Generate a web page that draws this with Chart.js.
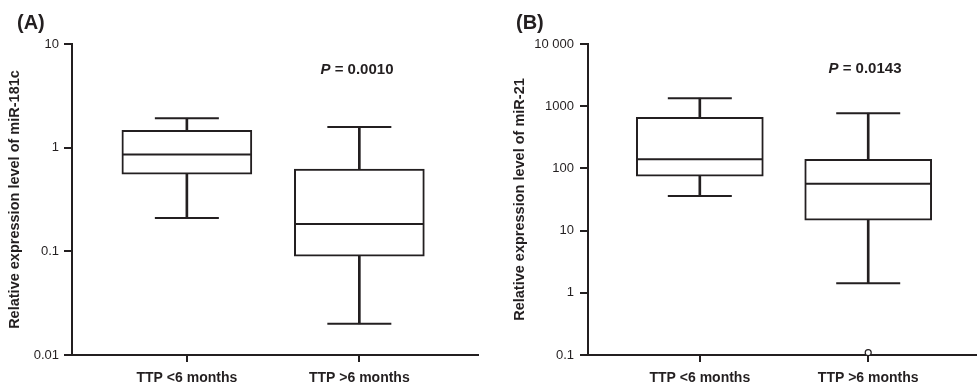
<!DOCTYPE html>
<html>
<head>
<meta charset="utf-8">
<script src="https://cdn.jsdelivr.net/npm/chart.js@4.4.1/dist/chart.umd.min.js"></script>
<style>
body { margin: 0; background: #fff; }
#wrap { position: relative; width: 977px; height: 385px; font-family: 'Liberation Sans', Arial, sans-serif; color: #231f20; }
canvas { position: absolute; top: 0; }
.lbl { position: absolute; font-weight: bold; white-space: nowrap; }
.panel { font-size: 20px; line-height: 20px; top: 12px; }
.pval { font-size: 15px; line-height: 15px; transform: translateX(-50%); }
</style>
</head>
<body>
<div id="wrap">
  <canvas id="chartA" width="490" height="385" style="left:0"></canvas>
  <canvas id="chartB" width="487" height="385" style="left:490px"></canvas>
  <div class="lbl panel" style="left:17px">(A)</div>
  <div class="lbl panel" style="left:516px">(B)</div>
  <div class="lbl pval" style="left:357px;top:61px"><i>P</i> = 0.0010</div>
  <div class="lbl pval" style="left:865px;top:60px"><i>P</i> = 0.0143</div>
</div>
<script>
const categories = ['TTP <6 months', 'TTP >6 months'];

// (A) miR-181c
const minA = [0.21, 0.020];
const q1A = [0.556, 0.0897];
const medianA = [0.86, 0.184];
const q3A = [1.47, 0.621];
const maxA = [1.92, 1.58];
const yTicksA = [0.01, 0.1, 1, 10];
const yLabelsA = ['0.01', '0.1', '1', '10'];

// (B) miR-21
const minB = [36, 1.43];
const q1B = [75, 14.7];
const medianB = [140, 56.5];
const q3B = [665, 140];
const maxB = [1346, 771];
const outlierB = [null, 0.109];
const yTicksB = [0.1, 1, 10, 100, 1000, 10000];
const yLabelsB = ['0.1', '1', '10', '100', '1000', '10 000'];

const ink = '#231f20';
const family = "'Liberation Sans', Arial, sans-serif";

function noPad(sc) {
  sc.paddingLeft = sc.paddingRight = sc.paddingTop = sc.paddingBottom = 0;
}

function boxChart(id, s) {
  const pts = arr => arr.map((v, i) => ({ x: i + 1, y: v })).filter(p => p.y !== null);
  const rng = (a, b) => a.map((v, i) => ({ x: i + 1, y: [v, b[i]] }));
  const whisker = (a, b) => ({
    type: 'bar', data: rng(a, b), backgroundColor: ink, borderWidth: 0,
    barThickness: 2, grouped: false, order: 2
  });
  const marks = (data, r) => ({
    type: 'line', data: data, showLine: false, pointStyle: 'line',
    pointRadius: r, pointBorderWidth: 2, pointBorderColor: ink, order: 0
  });

  const datasets = [
    {
      type: 'bar', data: rng(s.q1, s.q3), backgroundColor: '#fff', borderColor: ink,
      borderWidth: 2, borderSkipped: false, barThickness: s.boxWidth, grouped: false, order: 3
    },
    whisker(s.min, s.q1),
    whisker(s.q3, s.max),
    marks(pts(s.median), s.boxWidth / 2 - 1),
    marks(pts(s.min).concat(pts(s.max)), 32)
  ];
  if (s.outliers) {
    datasets.push({
      type: 'line', data: pts(s.outliers), showLine: false, pointStyle: 'circle',
      pointRadius: 3, pointBorderWidth: 1.2, pointBorderColor: ink,
      pointBackgroundColor: '#fff', clip: false, order: 0
    });
  }

  return new Chart(document.getElementById(id), {
    type: 'bar',
    data: { datasets: datasets },
    options: {
      responsive: false,
      animation: false,
      events: [],
      layout: { autoPadding: false, padding: { top: 44, right: s.padRight, left: 0, bottom: 0 } },
      plugins: { legend: { display: false }, tooltip: { enabled: false } },
      scales: {
        x: {
          type: 'linear', min: s.xMin, max: s.xMax, offset: false,
          afterBuildTicks: sc => { sc.ticks = [{ value: 1 }, { value: 2 }]; },
          afterFit: sc => { sc.height = 30; noPad(sc); },
          ticks: {
            callback: v => categories[v - 1], color: ink, padding: 8,
            font: { family: family, size: 14, weight: 'bold' }, maxRotation: 0, autoSkip: false
          },
          grid: { offset: false, drawOnChartArea: false, tickLength: 7, lineWidth: 2, color: ink },
          border: { display: true, width: 2, color: ink }
        },
        y: {
          type: 'logarithmic', min: s.yTicks[0], max: s.yTicks[s.yTicks.length - 1],
          afterBuildTicks: sc => { sc.ticks = s.yTicks.map(v => ({ value: v })); },
          afterFit: sc => { sc.width = s.yWidth; noPad(sc); },
          ticks: {
            callback: (v, i) => s.yLabels[i], color: ink, padding: s.yPad,
            font: { family: family, size: 13 }
          },
          grid: { drawOnChartArea: false, tickLength: 8, lineWidth: 2, color: ink },
          border: { display: true, width: 2, color: ink },
          title: {
            display: true, text: s.yTitle, color: ink,
            font: { family: family, size: 14.5, weight: 'bold' },
            padding: { top: s.titlePad, bottom: 0 }
          }
        }
      }
    }
  });
}

boxChart('chartA', {
  min: minA, q1: q1A, median: medianA, q3: q3A, max: maxA,
  yTicks: yTicksA, yLabels: yLabelsA, yTitle: 'Relative expression level of miR-181c',
  boxWidth: 130, xMin: 0.334, xMax: 2.688, yWidth: 72, yPad: 5, titlePad: 6.3, padRight: 12
});

boxChart('chartB', {
  min: minB, q1: q1B, median: medianB, q3: q3B, max: maxB, outliers: outlierB,
  yTicks: yTicksB, yLabels: yLabelsB, yTitle: 'Relative expression level of miR-21',
  boxWidth: 127, xMin: 0.336, xMax: 2.646, yWidth: 98, yPad: 6, titlePad: 21.6, padRight: 0
});
</script>
</body>
</html>
